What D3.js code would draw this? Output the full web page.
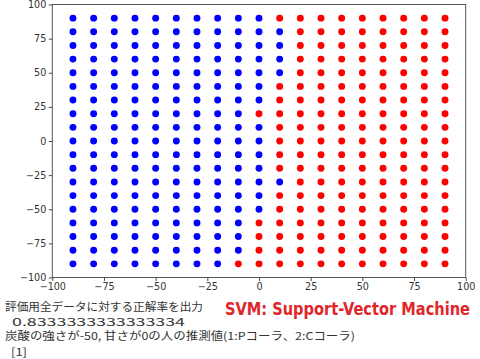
<!DOCTYPE html>
<html><head><meta charset="utf-8">
<script src="https://cdn.jsdelivr.net/npm/d3@7"></script>
<style>html,body{margin:0;padding:0;background:#fff;}</style>
</head><body>
<svg id="c" width="480" height="359"></svg>
<script>
// grid coordinates (炭酸の強さ x, 甘さ y)
const xValues = [-90,-80,-70,-60,-50,-40,-30,-20,-10,0,10,20,30,40,50,60,70,80,90];
const yValues = [90,80,70,60,50,40,30,20,10,0,-10,-20,-30,-40,-50,-60,-70,-80,-90];
// predicted class per row (top row y=90 first), one digit per x column: 1 = blue, 2 = red
const predictedRows = [
  "1111111111222222222", // 90
  "1111111111122222222", // 80
  "1111111111122222222", // 70
  "1111111111122222222", // 60
  "1111111111122222222", // 50
  "1111111111222222222", // 40
  "1111111111222222222", // 30
  "1111111112222222222", // 20
  "1111111111222222222", // 10
  "1111111111222222222", // 0
  "1111111111222222222", // -10
  "1111111111222222222", // -20
  "1111111111122222222", // -30
  "1111111111222222222", // -40
  "1111111111222222222", // -50
  "1111111112222222222", // -60
  "1111111112222222222", // -70
  "1111111112222222222", // -80
  "1111111122222222222"  // -90
];
const tickValues = [-100,-75,-50,-25,0,25,50,75,100];
const classColors = {"1":"#0000ff","2":"#ff0000"};
const consoleLines = [
  "評価用全データに対する正解率を出力",
  "0.8333333333333334",
  "炭酸の強さが-50, 甘さが0の人の推測値(1:Pコーラ、2:Cコーラ)",
  "[1]"
];
const titleText = "SVM: Support-Vector Machine";

const points = [];
yValues.forEach((y,i)=>{
  xValues.forEach((x,j)=>{
    points.push({x:x,y:y,c:predictedRows[i][j]});
  });
});

const svg = d3.select("#c");
const L=52.3, R=465.7, T=4.5, B=277.5;
const x = d3.scaleLinear().domain([-100,100]).range([L,R]);
const y = d3.scaleLinear().domain([-100,100]).range([B,T]);

const fmt = d => (d<0 ? "\u2212"+Math.abs(d) : ""+d);

svg.append("g").selectAll("circle").data(points).join("circle")
  .attr("cx",d=>x(d.x)).attr("cy",d=>y(d.y)).attr("r",3.45)
  .attr("fill",d=>classColors[d.c]);

const xAxis = svg.append("g").attr("transform",`translate(0,${B})`)
  .call(d3.axisBottom(x).tickValues(tickValues).tickFormat(fmt).tickSize(3.5).tickPadding(2.5).tickSizeOuter(0));
const yAxis = svg.append("g").attr("transform",`translate(${L},0)`)
  .call(d3.axisLeft(y).tickValues(tickValues).tickFormat(fmt).tickSize(3.5).tickPadding(2.5).tickSizeOuter(0));
[xAxis,yAxis].forEach(a=>{
  a.select(".domain").remove();
  a.selectAll("line").attr("stroke","#333").attr("stroke-width",0.9);
  a.selectAll("text").attr("font-family","DejaVu Sans").attr("font-size","9.6px").attr("fill","#333");
});
svg.append("rect").attr("x",L).attr("y",T).attr("width",R-L).attr("height",B-T)
  .attr("fill","none").attr("stroke","#444").attr("stroke-width",0.9);

const cl = svg.append("g").attr("font-family","'Noto Sans CJK JP'").attr("font-size","11px").attr("fill","#333");
const starts=[5,12,5,11];
const baselines=[310.5,325.5,340,356];
const lens=[198,173,350,16];
consoleLines.forEach((t,i)=>{
  cl.append("text").attr("x",starts[i]).attr("y",baselines[i])
    .attr("textLength",lens[i]).attr("lengthAdjust","spacingAndGlyphs").text(t);
});

const title = svg.append("text")
  .attr("font-family","'Liberation Sans Narrow','DejaVu Sans Condensed',sans-serif")
  .attr("font-weight","bold").attr("font-size","17px").attr("fill","#e0262b")
  .text(titleText);
const w = title.node().getComputedTextLength();
title.attr("transform",`translate(225,314.5) scale(${245/w},1)`);
</script>
</body></html>
